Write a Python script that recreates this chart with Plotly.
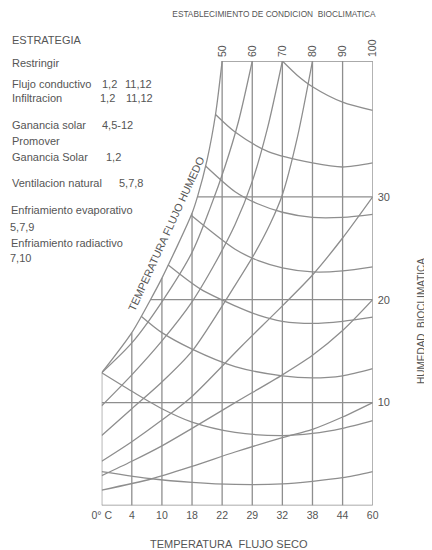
import plotly.graph_objects as go

# ---------------- data ----------------
x_ticks = [0, 1, 2, 3, 4, 5, 6, 7, 8, 9]
x_tick_labels = ["0° C", "4", "10", "18", "22", "29", "32", "38", "44", "60"]
top_ticks = [4, 5, 6, 7, 8, 9]
top_tick_labels = ["50", "60", "70", "80", "90", "100"]
y_ticks = [10, 20, 30]
y_top = 43.2

# frame / grid
vgrid_x = [0, 1, 2, 3, 4, 5, 6, 7, 8, 9]
vgrid_top = [12.9, 16.8, 22.1, 28.4, 43.2, 43.2, 43.2, 43.2, 43.2, 43.2]
hgrid_y = [0, 10, 20, 30, 43.2]
hgrid_start = [0, 0, 1.62, 3.18, 4]

# saturation boundary (TEMPERATURA FLUJO HUMEDO)
boundary_x = [0, 1, 1.62, 2, 3, 3.18, 3.5, 3.78, 4]
boundary_y = [12.9, 16.8, 20, 22.1, 28.4, 30, 33.6, 38, 43.2]

# rising curves
rise60_x = [0, 1, 2, 3, 3.6, 4.1, 4.54, 5]
rise60_y = [12.9, 15.8, 19.8, 24.6, 28.9, 33.0, 37.3, 43.2]
rise70_x = [0, 1, 2, 3, 3.7, 4.43, 5, 5.5, 6]
rise70_y = [9.7, 12.7, 16.0, 19.8, 23.2, 27.3, 31.5, 36.6, 43.2]
rise80_x = [0, 1, 2, 3, 4.43, 5.1, 5.6, 6, 6.5, 7]
rise80_y = [6.8, 9.4, 12.0, 15.0, 21.4, 24.6, 27.4, 30.2, 35.8, 43.2]
rise30_x = [0, 1, 2, 3, 4.65, 6, 7, 8, 9]
rise30_y = [4.3, 6.2, 8.3, 10.6, 15.5, 19.4, 22.4, 26.0, 30.0]
rise20_x = [0, 1, 2, 3, 4.43, 6, 7, 8, 9]
rise20_y = [2.9, 4.3, 5.8, 7.5, 10.0, 12.7, 14.6, 17.0, 20.0]
rise10_x = [0, 1.67, 3, 4.43, 6, 7, 8, 9]
rise10_y = [1.5, 2.6, 3.8, 5.2, 6.6, 7.4, 8.6, 10.0]

# U-shaped curves
ug_x = [6, 6.5, 7, 8, 9]
ug_y = [43.2, 41.8, 40.7, 39.2, 38.4]
uf_x = [3.78, 4.43, 5.53, 7, 8, 9]
uf_y = [38.0, 36.3, 34.4, 33.3, 32.9, 33.3]
ue_x = [3.45, 4.43, 5.2, 6, 7, 8, 9]
ue_y = [33.0, 30.5, 29.3, 28.5, 28.0, 28.0, 28.3]
ud_x = [2.97, 4.43, 5.2, 6, 7, 8, 9]
ud_y = [28.2, 24.9, 23.8, 23.1, 22.7, 22.8, 23.2]
uc_x = [2.2, 3.3, 4.43, 5.2, 6, 7, 8, 9]
uc_y = [23.4, 21.0, 19.4, 18.5, 17.9, 17.7, 17.9, 18.3]
ub_x = [1.31, 2, 3, 4.43, 6, 7, 8, 9]
ub_y = [18.4, 16.8, 15.2, 13.5, 12.6, 12.4, 12.6, 13.3]
ua_x = [0, 1, 2, 3, 4.43, 6, 7, 8, 9]
ua_y = [12.9, 11.1, 9.4, 8.1, 7.1, 6.8, 7.0, 7.5, 8.25]
u0_x = [0, 1.66, 3, 4.43, 6, 7, 8, 9]
u0_y = [3.3, 2.6, 2.25, 2.05, 2.1, 2.35, 2.7, 3.3]

# ---------------- figure ----------------
# the page body adds an 8 px margin, so the figure is drawn 8 px smaller
OFF = 8
W, H = 432 - OFF, 550 - OFF
LINE = "#8e8e8e"
TXT = "#555555"
FONT = "Liberation Sans, Arial, sans-serif"


def px(xp):
    return (xp - OFF) / W


def py(yp):
    return 1 - (yp - OFF) / H


fig = go.Figure()

# vertical grid lines
vx, vy = [], []
for x0, top in zip(vgrid_x, vgrid_top):
    vx += [x0, x0, None]
    vy += [0, top, None]
fig.add_trace(go.Scatter(x=vx, y=vy, mode="lines",
                         line=dict(color=LINE, width=1.3), hoverinfo="skip"))

# horizontal grid lines
hx, hy = [], []
for y0, xs in zip(hgrid_y, hgrid_start):
    hx += [xs, 9, None]
    hy += [y0, y0, None]
fig.add_trace(go.Scatter(x=hx, y=hy, mode="lines", xaxis="x2",
                         line=dict(color=LINE, width=1.3), hoverinfo="skip"))

curves = [
    (boundary_x, boundary_y),
    (rise60_x, rise60_y), (rise70_x, rise70_y), (rise80_x, rise80_y),
    (rise30_x, rise30_y), (rise20_x, rise20_y), (rise10_x, rise10_y),
    (ug_x, ug_y), (uf_x, uf_y), (ue_x, ue_y), (ud_x, ud_y),
    (uc_x, uc_y), (ub_x, ub_y), (ua_x, ua_y), (u0_x, u0_y),
]
for cx, cy in curves:
    fig.add_trace(go.Scatter(x=cx, y=cy, mode="lines",
                             line=dict(color=LINE, width=1.3, shape="spline", smoothing=0.8),
                             hoverinfo="skip"))

dom_x = [px(101.7), px(372.7)]
dom_y = [py(505.5), py(61)]

fig.update_layout(
    width=W, height=H, autosize=False,
    margin=dict(l=0, r=0, t=0, b=0, autoexpand=False),
    paper_bgcolor="white", plot_bgcolor="white",
    showlegend=False,
    font=dict(family=FONT, color=TXT),
    title=dict(text="ESTABLECIMIENTO DE CONDICION\u00a0 BIOCLIMATICA",
               x=px(274), y=py(14), xanchor="center", yanchor="middle",
               font=dict(size=8.3, color=TXT, family=FONT)),
    xaxis=dict(domain=dom_x, range=[0, 9], showgrid=False, zeroline=False,
               showline=False, ticks="", tickvals=x_ticks, ticktext=x_tick_labels,
               automargin=False,
               tickfont=dict(size=10.5, color=TXT), ticklabelstandoff=2),
    xaxis2=dict(domain=dom_x, range=[0, 9], overlaying="x", side="top",
                showgrid=False, zeroline=False, showline=False, ticks="",
                automargin=False,
                tickvals=top_ticks, ticktext=top_tick_labels, tickangle=-90,
                tickfont=dict(size=10.5, color=TXT), ticklabelstandoff=3),
    yaxis=dict(domain=dom_y, range=[0, y_top], side="right", showgrid=False,
               zeroline=False, showline=False, ticks="", tickvals=y_ticks,
               automargin=False,
               tickfont=dict(size=11, color=TXT), ticklabelstandoff=4),
)

# axis titles
fig.add_annotation(text="TEMPERATURA\u00a0 FLUJO SECO", x=px(229), y=py(544),
                   xref="paper", yref="paper", xanchor="center", yanchor="middle",
                   showarrow=False, font=dict(size=11, color=TXT, family=FONT))
fig.add_annotation(text="HUMEDAD\u00a0 BIOCLIMATICA", x=px(421), y=py(321),
                   xref="paper", yref="paper", xanchor="center", yanchor="middle",
                   showarrow=False, textangle=-90,
                   font=dict(size=10, color=TXT, family=FONT))

# left-hand legend text
left_items = [
    ("ESTRATEGIA", 10, 40), ("Restringir", 10, 63),
    ("Flujo conductivo", 10, 84), ("1,2", 100, 84), ("11,12", 123, 84),
    ("Infiltracion", 10, 98), ("1,2", 98, 98), ("11,12", 124, 98),
    ("Ganancia solar", 10, 125), ("4,5-12", 100, 125),
    ("Promover", 10, 141),
    ("Ganancia Solar", 10, 157), ("1,2", 104, 157),
    ("Ventilacion natural", 10, 183), ("5,7,8", 117, 183),
    ("Enfriamiento evaporativo", 9, 210), ("5,7,9", 8, 227),
    ("Enfriamiento radiactivo", 9, 243), ("7,10", 8, 258),
]
for t, xx, yy in left_items:
    fig.add_annotation(text=t, x=px(xx), y=py(yy), xref="paper", yref="paper",
                       xanchor="left", yanchor="middle", showarrow=False,
                       font=dict(size=11, color=TXT, family=FONT))

fig.add_annotation(text="TEMPERATURA FLUJO HUMEDO", x=px(166), y=py(234),
                   xref="paper", yref="paper", xanchor="center", yanchor="middle",
                   showarrow=False, textangle=-65.4,
                   font=dict(size=10.8, color=TXT, family=FONT))

fig.write_html("out.html")
